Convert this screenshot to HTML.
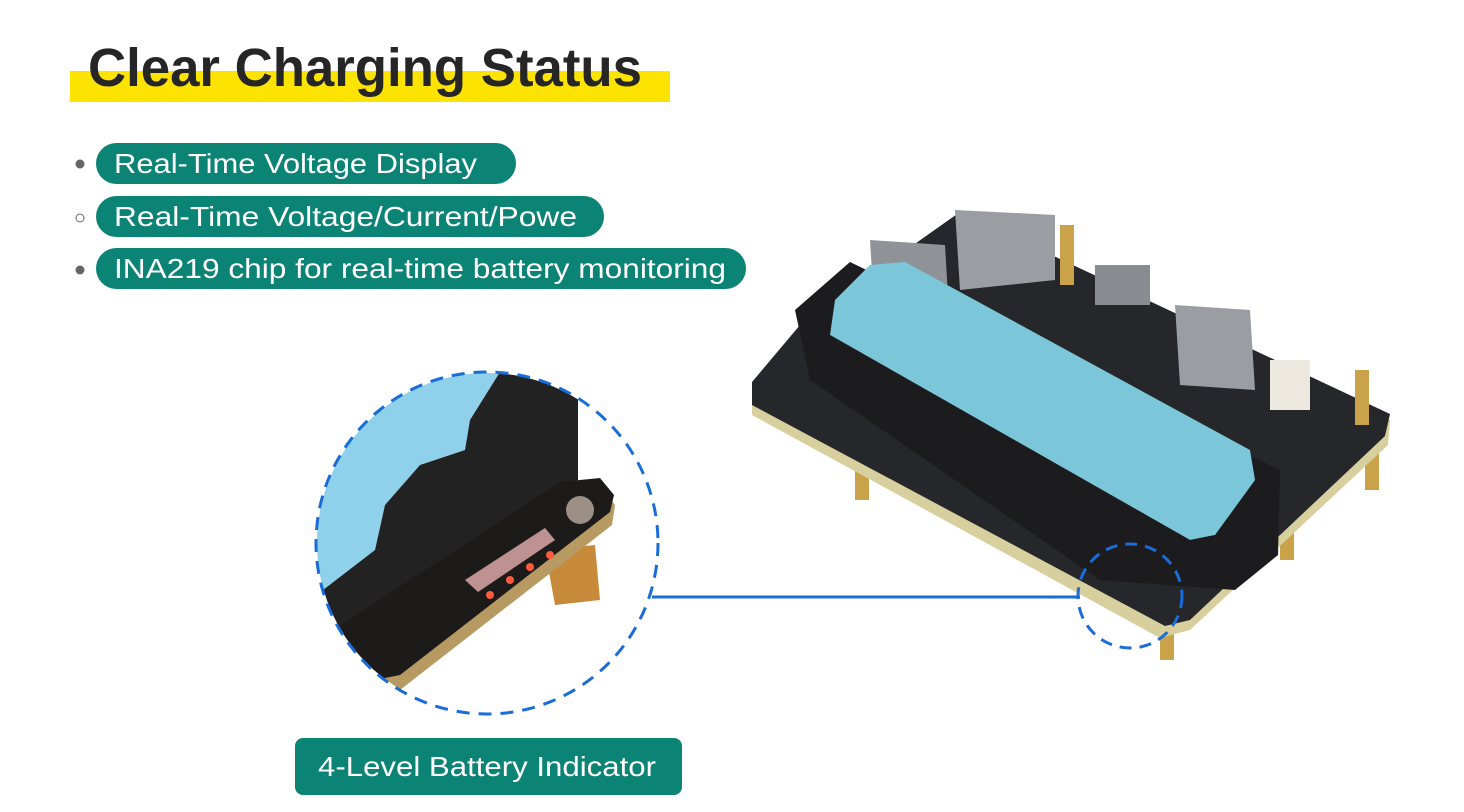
<!DOCTYPE html>
<html><head><style>html,body{margin:0;padding:0;background:#fff}svg{display:block}</style></head>
<body>
<svg width="1464" height="812" viewBox="0 0 1464 812" xmlns="http://www.w3.org/2000/svg" font-family="'Liberation Sans', sans-serif">
<rect width="1464" height="812" fill="#fff"/>
<!-- title -->
<rect x="70" y="71" width="600" height="31" fill="#fce300"/>
<text x="88" y="86" font-size="54" font-weight="bold" fill="#262626" textLength="554" lengthAdjust="spacingAndGlyphs">Clear Charging Status</text>
<!-- bullets -->
<circle cx="80" cy="164" r="4.5" fill="#666"/>
<circle cx="80" cy="218" r="4" fill="none" stroke="#666" stroke-width="1"/>
<circle cx="80" cy="270" r="4.5" fill="#666"/>
<rect x="96" y="143" width="420" height="41" rx="20.5" fill="#0b8375"/>
<rect x="96" y="196" width="508" height="41" rx="20.5" fill="#0b8375"/>
<rect x="96" y="248" width="650" height="41" rx="20.5" fill="#0b8375"/>
<text x="114" y="173" font-size="28" fill="#fff" textLength="363" lengthAdjust="spacingAndGlyphs">Real-Time Voltage Display</text>
<text x="114" y="226" font-size="28" fill="#fff" textLength="463" lengthAdjust="spacingAndGlyphs">Real-Time Voltage/Current/Powe</text>
<text x="114" y="278" font-size="28" fill="#fff" textLength="612" lengthAdjust="spacingAndGlyphs">INA219 chip for real-time battery monitoring</text>
<!-- board -->
<g>
<rect x="855" y="440" width="14" height="60" fill="#c9a24a"/>
<rect x="1160" y="600" width="14" height="60" fill="#c9a24a"/>
<rect x="1365" y="440" width="14" height="50" fill="#c9a24a"/>
<rect x="1280" y="510" width="14" height="50" fill="#c9a24a"/>
<polygon points="752,390 800,330 960,220 1390,420 1388,445 1190,630 1160,638 752,415" fill="#d8cf9e"/>
<polygon points="752,382 800,325 960,212 1390,414 1385,436 1190,620 1165,626 752,405" fill="#26272b"/>
<polygon points="955,210 1055,215 1055,280 960,290" fill="#9a9da2"/>
<polygon points="870,240 945,245 950,330 875,320" fill="#8f9297"/>
<polygon points="1175,305 1250,310 1255,390 1180,385" fill="#9a9da2"/>
<rect x="1095" y="265" width="55" height="40" fill="#888b90"/>
<rect x="1060" y="225" width="14" height="60" fill="#c9a24a"/>
<rect x="1355" y="370" width="14" height="55" fill="#c9a24a"/>
<rect x="1270" y="360" width="40" height="50" fill="#ece8df"/>
<!-- holder -->
<polygon points="795,310 850,262 1280,470 1278,555 1235,590 1100,580 810,380" fill="#1c1c1e"/>
<!-- battery -->
<polygon points="835,300 870,265 905,262 1250,450 1255,480 1215,535 1190,540 830,335" fill="#7cc6da"/>
<polygon points="830,335 1190,540 1215,535 1210,560 1100,570 820,380" fill="#1c1c1e"/>
<circle cx="1130" cy="596" r="52" fill="none" stroke="#1a6cd8" stroke-width="3" stroke-dasharray="12 8"/>
</g>
<line x1="652" y1="597" x2="1080" y2="597" stroke="#1a6cd8" stroke-width="3"/>
<!-- zoom circle -->
<defs><clipPath id="c"><circle cx="487" cy="543" r="170"/></clipPath></defs>
<g clip-path="url(#c)">
<rect x="310" y="360" width="360" height="370" fill="#fff"/>
<polygon points="310,360 520,360 500,372 470,420 465,450 420,465 385,505 375,550 310,600" fill="#8fd0ea"/>
<polygon points="500,372 520,365 578,395 578,480 330,640 310,640 310,600 375,550 385,505 420,465 465,450 470,420" fill="#232223"/>
<polygon points="545,550 595,545 600,600 555,605" fill="#c7893a"/>
<polygon points="320,650 560,490 600,485 615,505 612,525 400,690 380,690" fill="#b69a62"/>
<polygon points="318,640 560,482 600,478 614,495 610,512 400,675 375,680" fill="#1d1a1a"/>
<polygon points="465,580 545,528 555,540 478,592" fill="#e8b0b0" opacity="0.8"/>
<circle cx="580" cy="510" r="14" fill="#9c8f86"/>
<circle cx="490" cy="595" r="4" fill="#ff5a3a"/>
<circle cx="510" cy="580" r="4" fill="#ff5a3a"/>
<circle cx="530" cy="567" r="4" fill="#ff5a3a"/>
<circle cx="550" cy="555" r="4" fill="#ff5a3a"/>
</g>
<circle cx="487" cy="543" r="171" fill="none" stroke="#1a6cd8" stroke-width="3" stroke-dasharray="13 9"/>
<!-- bottom label -->
<rect x="295" y="738" width="387" height="57" rx="8" fill="#0b8375"/>
<text x="318" y="776" font-size="28" fill="#fff" textLength="338" lengthAdjust="spacingAndGlyphs">4-Level Battery Indicator</text>
</svg>
</body></html>
